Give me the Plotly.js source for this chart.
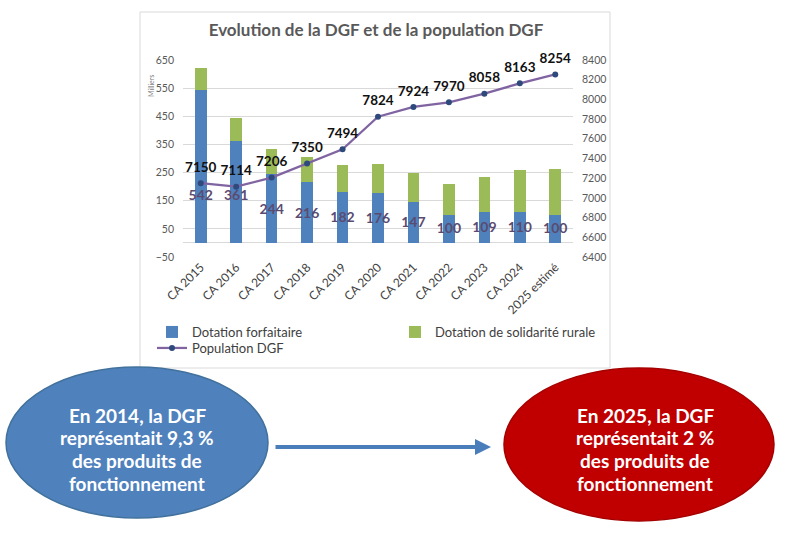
<!DOCTYPE html>
<html>
<head>
<meta charset="utf-8">
<script src="https://cdn.plot.ly/plotly-3.0.1.min.js"></script>
<style>
  html, body { margin: 0; padding: 0; background: #ffffff; }
  #chart { width: 787px; height: 533px; }
</style>
</head>
<body>
<div id="chart"></div>
<script>
// ---- Data ----
const categories = ['CA 2015', 'CA 2016', 'CA 2017', 'CA 2018', 'CA 2019', 'CA 2020',
                    'CA 2021', 'CA 2022', 'CA 2023', 'CA 2024', '2025 estimé'];
const dotationForfaitaire = [542, 361, 244, 216, 182, 176, 147, 100, 109, 110, 100];
const dotationSolidariteRurale = [80, 83, 89, 90, 96, 104, 103, 109, 126, 149, 162];
const populationDGF = [7150, 7114, 7206, 7350, 7494, 7824, 7924, 7970, 8058, 8163, 8254];

const titleText = 'Evolution de la DGF et de la population DGF';
const leftLines = ['En 2014, la DGF', 'représentait 9,3 %', 'des produits de', 'fonctionnement'];
const rightLines = ['En 2025, la DGF', 'représentait 2 %', 'des produits de', 'fonctionnement'];

// ---- Geometry helpers (pixel -> paper) ----
const W = 787, H = 533;
const M = { l: 183, r: 214, t: 60, b: 276 };
const PW = W - M.l - M.r, PH = H - M.t - M.b;
const px = x => (x - M.l) / PW;
const py = y => (H - M.b - y) / PH;

const FONT = 'Lato, "Open Sans", sans-serif';

// labels inside blue bars (centred, first ones kept below the line)
const labelPos = dotationForfaitaire.map(v => Math.min(v * 0.47, 165));

const traces = [
  {
    type: 'bar', name: 'Dotation forfaitaire', x: categories, y: dotationForfaitaire,
    marker: { color: '#4F81BD' }, legend: 'legend', hoverinfo: 'x+y+name'
  },
  {
    type: 'bar', name: 'Dotation de solidarité rurale', x: categories, y: dotationSolidariteRurale,
    marker: { color: '#9BBB59' }, legend: 'legend2', hoverinfo: 'x+y+name'
  },
  {
    type: 'scatter', mode: 'text', x: categories, y: labelPos,
    text: dotationForfaitaire.map(String), textposition: 'middle center',
    textfont: { family: FONT, size: 14, color: '#5b4b70', weight: 'bold' },
    showlegend: false, hoverinfo: 'skip', cliponaxis: false
  },
  {
    type: 'scatter', mode: 'lines+markers', name: 'Population DGF',
    x: categories, y: populationDGF, yaxis: 'y2', legend: 'legend3',
    line: { color: '#8064A2', width: 2.25 },
    marker: { color: '#2E4A7D', size: 6 }, cliponaxis: false
  },
  {
    type: 'scatter', mode: 'markers+text', x: categories, y: populationDGF, yaxis: 'y2',
    marker: { color: 'rgba(0,0,0,0)', size: 11 },
    text: populationDGF.map(String), textposition: 'top center', cliponaxis: false,
    textfont: { family: FONT, size: 13.5, color: '#111111', weight: 'bold' },
    showlegend: false, hoverinfo: 'skip'
  }
];

const legendBase = {
  orientation: 'h', xanchor: 'left', yanchor: 'middle', bgcolor: 'rgba(0,0,0,0)',
  font: { family: FONT, size: 13, color: '#404040' }
};

const ellipseLine = (lines, cx) => lines.map((t, i) => ({
  text: t, xref: 'paper', yref: 'paper', x: px(cx), y: py(415 + i * 22.7),
  showarrow: false, xanchor: 'center', yanchor: 'middle',
  font: { family: FONT, size: 19, color: '#ffffff', weight: 'bold' }
}));

const layout = {
  width: W, height: H,
  margin: M,
  paper_bgcolor: '#ffffff', plot_bgcolor: '#ffffff',
  barmode: 'stack', bargap: 0.67,
  showlegend: true,
  title: {
    text: titleText, xref: 'container', yref: 'container',
    x: 376 / W, y: 1 - 30 / H, xanchor: 'center', yanchor: 'middle',
    font: { family: FONT, size: 17, color: '#595959', weight: 'bold' }
  },
  xaxis: {
    type: 'category', range: [-0.5, categories.length - 0.5], autorange: false,
    tickangle: -45, showgrid: false, showline: false, zeroline: false,
    tickfont: { family: FONT, size: 12, color: '#404040' }, ticks: ''
  },
  yaxis: {
    range: [-50, 650], tick0: -50, dtick: 100, showgrid: true, gridcolor: '#d9d9d9', gridwidth: 1,
    zeroline: true, zerolinecolor: '#d9d9d9', zerolinewidth: 1, showline: false,
    tickfont: { family: FONT, size: 10.5, color: '#595959' }, ticklabelstandoff: 8
  },
  yaxis2: {
    overlaying: 'y', side: 'right', range: [6400, 8400], tick0: 6400, dtick: 200,
    showgrid: false, zeroline: false, showline: false,
    tickfont: { family: FONT, size: 10.5, color: '#595959' }, ticklabelstandoff: 8
  },
  legend: Object.assign({}, legendBase, { x: px(152), y: py(332) }),
  legend2: Object.assign({}, legendBase, { x: px(395), y: py(332) }),
  legend3: Object.assign({}, legendBase, { x: px(152), y: py(348) }),
  shapes: [
    { type: 'rect', xref: 'paper', yref: 'paper', x0: px(140), x1: px(610), y0: py(368), y1: py(12),
      line: { color: '#d9d9d9', width: 1 }, fillcolor: 'rgba(0,0,0,0)', layer: 'below' },
    { type: 'circle', xref: 'paper', yref: 'paper', x0: px(6), x1: px(268), y0: py(518), y1: py(367),
      fillcolor: '#4F81BD', line: { color: '#41719C', width: 1.5 } },
    { type: 'circle', xref: 'paper', yref: 'paper', x0: px(504), x1: px(774), y0: py(521), y1: py(368),
      fillcolor: '#C00000', line: { color: '#A50000', width: 1.5 } }
  ],
  annotations: [
    { text: 'Milliers', xref: 'paper', yref: 'paper', x: px(145), y: py(73), textangle: -90,
      showarrow: false, font: { family: FONT, size: 7, color: '#7f7f7f' } },
    { text: '', xref: 'paper', yref: 'paper', x: px(491), y: py(447), ax: -217, ay: 0,
      showarrow: true, arrowhead: 2, arrowsize: 0.8, arrowwidth: 4, arrowcolor: '#4A7EBB', standoff: 0 }
  ].concat(ellipseLine(leftLines, 137)).concat(ellipseLine(rightLines, 645))
};

Plotly.newPlot('chart', traces, layout, { displayModeBar: false, staticPlot: true });
</script>
</body>
</html>
